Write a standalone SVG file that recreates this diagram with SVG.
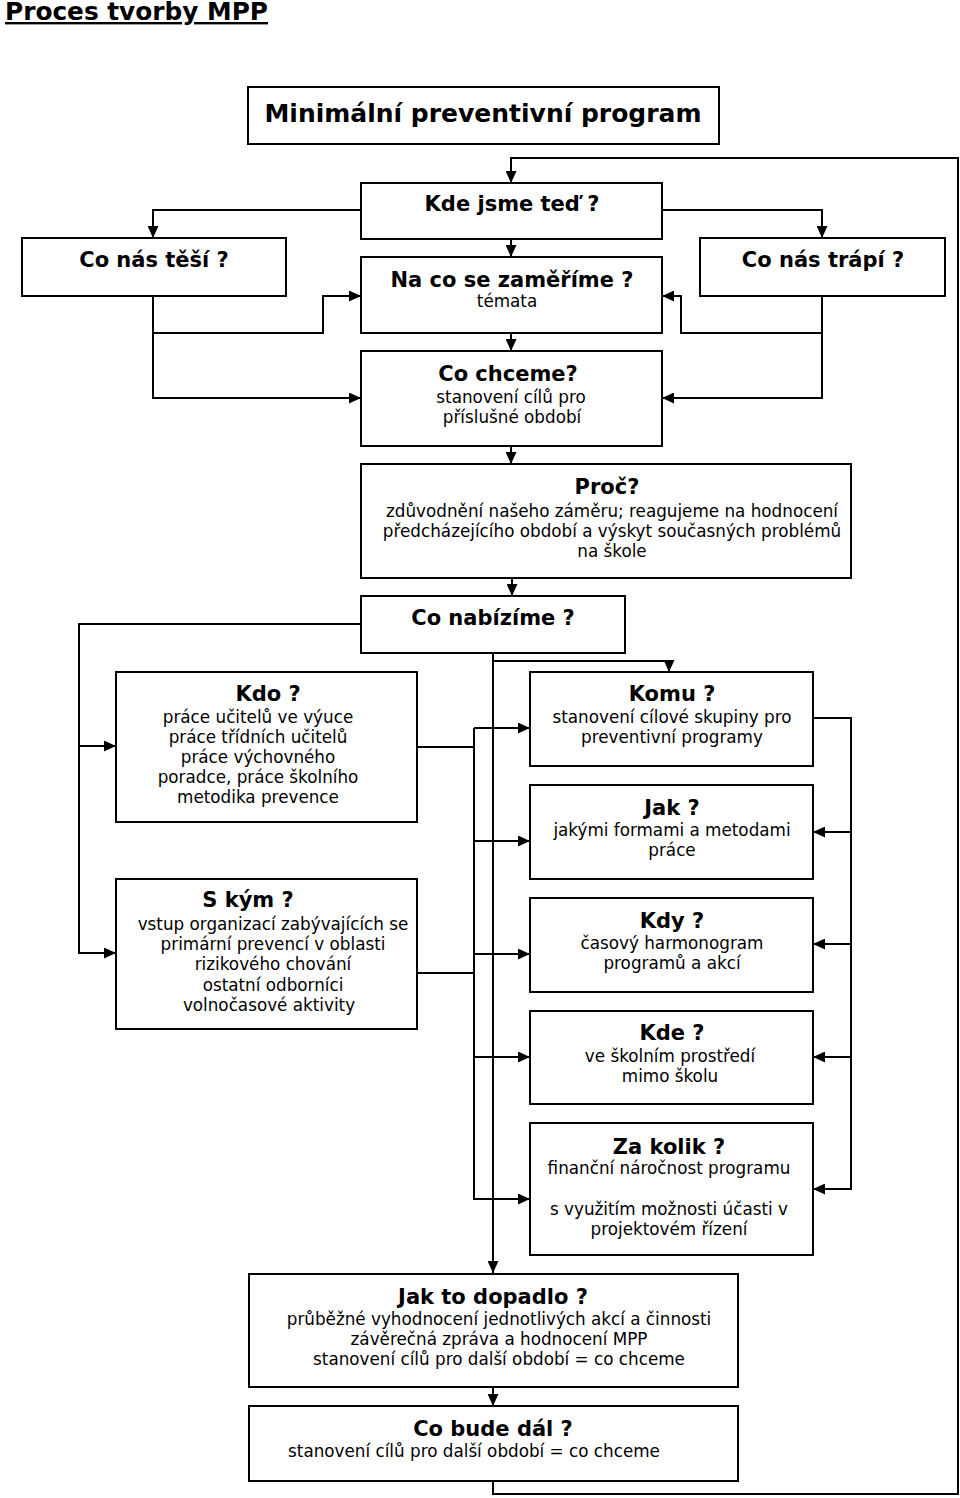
<svg xmlns="http://www.w3.org/2000/svg" width="960" height="1498" viewBox="0 0 960 1498">
<style>
.box{fill:#fff;stroke:#000;stroke-width:2}
.t{font-family:"DejaVu Sans","Verdana",sans-serif;font-weight:bold;font-size:21px;text-anchor:middle;fill:#000}
.b{font-family:"DejaVu Sans","Verdana",sans-serif;font-size:16.8px;text-anchor:middle;fill:#000}
.c{fill:none;stroke:#000;stroke-width:2}
</style>
<defs>
<marker id="ar" viewBox="0 0 12 11" refX="12" refY="5.5" markerWidth="12" markerHeight="11" markerUnits="userSpaceOnUse" orient="auto">
<path d="M0,0 L12,5.5 L0,11 z" fill="#000"/>
</marker>
</defs>
<rect width="960" height="1498" fill="#fff"/>
<text x="5" y="20" font-family="DejaVu Sans, sans-serif" font-weight="bold" font-size="24" textLength="263" lengthAdjust="spacingAndGlyphs" text-decoration="underline">Proces tvorby MPP</text>

<g id="connectors">
<path class="c" d="M493,1481 V1494 H958 V158 H511 V183" marker-end="url(#ar)"/>
<path class="c" d="M361,210 H153 V238" marker-end="url(#ar)"/>
<path class="c" d="M662,210 H822 V238" marker-end="url(#ar)"/>
<path class="c" d="M511,239 V257" marker-end="url(#ar)"/>
<path class="c" d="M153,296 V398 H361" marker-end="url(#ar)"/>
<path class="c" d="M153,333 H323 V296 H361" marker-end="url(#ar)"/>
<path class="c" d="M822,296 V398 H662" marker-end="url(#ar)"/>
<path class="c" d="M822,333 H681 V296 H662" marker-end="url(#ar)"/>
<path class="c" d="M511,333 V351" marker-end="url(#ar)"/>
<path class="c" d="M511,446 V464" marker-end="url(#ar)"/>
<path class="c" d="M512,578 V596" marker-end="url(#ar)"/>
<path class="c" d="M361,624 H79 V953 H116" marker-end="url(#ar)"/>
<path class="c" d="M79,746 H116" marker-end="url(#ar)"/>
<path class="c" d="M493,653 V1273" marker-end="url(#ar)"/>
<path class="c" d="M493,661 H669 V672" marker-end="url(#ar)"/>
<path class="c" d="M417,747 H474"/>
<path class="c" d="M417,973 H474"/>
<path class="c" d="M474,728 V1199 H530" marker-end="url(#ar)"/>
<path class="c" d="M474,728 H530" marker-end="url(#ar)"/>
<path class="c" d="M474,841 H530" marker-end="url(#ar)"/>
<path class="c" d="M474,954 H530" marker-end="url(#ar)"/>
<path class="c" d="M474,1057 H530" marker-end="url(#ar)"/>
<path class="c" d="M813,718 H851 V1189 H813" marker-end="url(#ar)"/>
<path class="c" d="M851,832 H813" marker-end="url(#ar)"/>
<path class="c" d="M851,944 H813" marker-end="url(#ar)"/>
<path class="c" d="M851,1057 H813" marker-end="url(#ar)"/>
<path class="c" d="M493,1387 V1406" marker-end="url(#ar)"/>
</g>

<g id="mpp">
<rect class="box" x="248" y="87" width="471" height="57"/>
<text class="t" x="483" y="122" style="font-size:25px">Minimální preventivní program</text>
</g>
<g id="kde-jsme">
<rect class="box" x="361" y="183" width="301" height="56"/>
<text class="t" x="512" y="211">Kde jsme teď ?</text>
</g>
<g id="tesi">
<rect class="box" x="22" y="238" width="264" height="58"/>
<text class="t" x="154" y="267">Co nás těší ?</text>
</g>
<g id="trapi">
<rect class="box" x="700" y="238" width="245" height="58"/>
<text class="t" x="823" y="267">Co nás trápí ?</text>
</g>
<g id="na-co">
<rect class="box" x="361" y="257" width="301" height="76"/>
<text class="t" x="512" y="287">Na co se zaměříme ?</text>
<text class="b" x="507" y="307">témata</text>
</g>
<g id="co-chceme">
<rect class="box" x="361" y="351" width="301" height="95"/>
<text class="t" x="508" y="381">Co chceme?</text>
<text class="b" x="511" y="402.5">stanovení cílů pro</text>
<text class="b" x="512" y="423">příslušné období</text>
</g>
<g id="proc">
<rect class="box" x="361" y="464" width="490" height="114"/>
<text class="t" x="607" y="494">Proč?</text>
<text class="b" x="612" y="516.5">zdůvodnění našeho záměru; reagujeme na hodnocení</text>
<text class="b" x="612" y="537">předcházejícího období a výskyt současných problémů</text>
<text class="b" x="612" y="557">na škole</text>
</g>
<g id="co-nabizime">
<rect class="box" x="361" y="596" width="264" height="57"/>
<text class="t" x="493" y="625">Co nabízíme ?</text>
</g>
<g id="kdo">
<rect class="box" x="116" y="672" width="301" height="150"/>
<text class="t" x="268" y="701">Kdo ?</text>
<text class="b" x="258" y="722.5">práce učitelů ve výuce</text>
<text class="b" x="258" y="743">práce třídních učitelů</text>
<text class="b" x="258" y="763">práce výchovného</text>
<text class="b" x="258" y="783">poradce, práce školního</text>
<text class="b" x="258" y="803">metodika prevence</text>
</g>
<g id="s-kym">
<rect class="box" x="116" y="879" width="301" height="150"/>
<text class="t" x="248" y="907">S kým ?</text>
<text class="b" x="273" y="930">vstup organizací zabývajících se</text>
<text class="b" x="273" y="950">primární prevencí v oblasti</text>
<text class="b" x="273" y="970">rizikového chování</text>
<text class="b" x="273" y="991">ostatní odborníci</text>
<text class="b" x="269" y="1011">volnočasové aktivity</text>
</g>
<g id="komu">
<rect class="box" x="530" y="672" width="283" height="94"/>
<text class="t" x="672" y="701">Komu ?</text>
<text class="b" x="672" y="723">stanovení cílové skupiny pro</text>
<text class="b" x="672" y="743">preventivní programy</text>
</g>
<g id="jak">
<rect class="box" x="530" y="785" width="283" height="94"/>
<text class="t" x="672" y="814.5">Jak ?</text>
<text class="b" x="672" y="836">jakými formami a metodami</text>
<text class="b" x="672" y="856">práce</text>
</g>
<g id="kdy">
<rect class="box" x="530" y="898" width="283" height="94"/>
<text class="t" x="672" y="927.5">Kdy ?</text>
<text class="b" x="672" y="948.5">časový harmonogram</text>
<text class="b" x="672" y="968.5">programů a akcí</text>
</g>
<g id="kde">
<rect class="box" x="530" y="1011" width="283" height="93"/>
<text class="t" x="672" y="1040">Kde ?</text>
<text class="b" x="670" y="1061.5">ve školním prostředí</text>
<text class="b" x="670" y="1081.5">mimo školu</text>
</g>
<g id="za-kolik">
<rect class="box" x="530" y="1123" width="283" height="132"/>
<text class="t" x="669" y="1153.5">Za kolik ?</text>
<text class="b" x="669" y="1174">finanční náročnost programu</text>
<text class="b" x="669" y="1215">s využitím možnosti účasti v</text>
<text class="b" x="669" y="1235">projektovém řízení</text>
</g>
<g id="jak-to-dopadlo">
<rect class="box" x="249" y="1274" width="489" height="113"/>
<text class="t" x="493" y="1304">Jak to dopadlo ?</text>
<text class="b" x="499" y="1325">průběžné vyhodnocení jednotlivých akcí a činnosti</text>
<text class="b" x="499" y="1345">závěrečná zpráva a hodnocení MPP</text>
<text class="b" x="499" y="1365">stanovení cílů pro další období = co chceme</text>
</g>
<g id="co-bude-dal">
<rect class="box" x="249" y="1406" width="489" height="75"/>
<text class="t" x="493" y="1435.5">Co bude dál ?</text>
<text class="b" x="474" y="1456.5">stanovení cílů pro další období = co chceme</text>
</g>
</svg>
